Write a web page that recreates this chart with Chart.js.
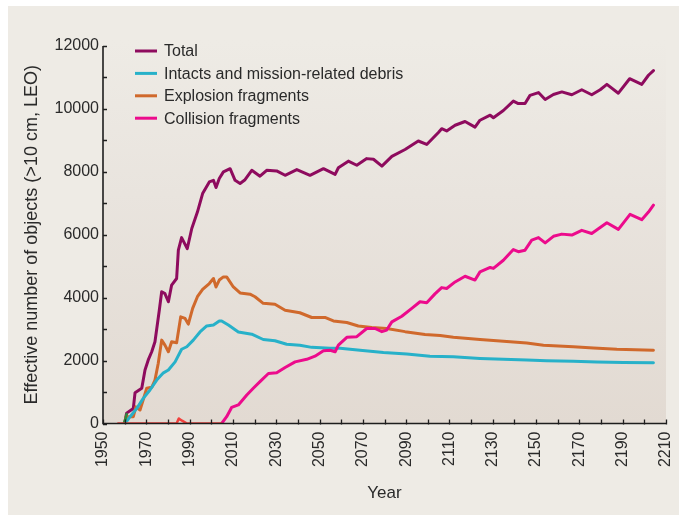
<!DOCTYPE html>
<html>
<head>
<meta charset="utf-8">
<script src="https://cdn.jsdelivr.net/npm/chart.js@4/dist/chart.umd.min.js"></script>
<style>
html,body{margin:0;padding:0;background:#ffffff;}
#wrap{position:absolute;left:0;top:0;width:679px;height:515px;}
canvas{display:block;}
</style>
</head>
<body>
<div id="wrap"><canvas id="c" width="679" height="515"></canvas></div>
<script>
// ---- Data ----
const xTickLabels = [1950,1970,1990,2010,2030,2050,2070,2090,2110,2130,2150,2170,2190,2210];
const yTickLabels = [0,2000,4000,6000,8000,10000,12000];

const seriesNames = ["Total","Intacts and mission-related debris","Explosion fragments","Collision fragments"];

const totalYears  = [1960.0,1960.9,1964.0,1964.8,1967.9,1969.4,1970.9,1972.5,1974.0,1976.0,1977.1,1978.6,1980.2,1981.7,1984.0,1984.8,1986.3,1988.9,1991.0,1993.6,1996.0,1999.1,2001.0,2002.2,2003.7,2005.6,2008.7,2011.0,2013.3,2015.6,2018.7,2022.5,2025.6,2030.2,2034.1,2039.5,2045.6,2051.8,2057.2,2058.7,2063.3,2067.2,2071.8,2074.9,2078.8,2083.4,2089.5,2095.6,2099.5,2104.9,2106.4,2108.7,2112.6,2117.2,2121.8,2124.1,2128.8,2130.3,2134.9,2139.5,2141.8,2144.9,2147.2,2151.1,2154.2,2158.0,2161.9,2166.5,2171.1,2175.7,2179.6,2182.7,2188.0,2193.2,2198.8,2201.9,2204.2];
const totalValues = [0,330,480,980,1120,1700,2020,2280,2600,3600,4190,4130,3870,4400,4610,5510,5910,5560,6200,6720,7310,7680,7730,7500,7790,8000,8100,7730,7630,7750,8050,7860,8050,8030,7890,8070,7890,8100,7920,8130,8340,8210,8420,8400,8180,8490,8710,8980,8870,9250,9370,9300,9480,9600,9420,9640,9800,9720,9950,10250,10170,10170,10430,10520,10300,10460,10540,10450,10610,10450,10610,10780,10500,10960,10780,11070,11220];

const intactYears  = [1960.2,1962.5,1965.6,1968.6,1971.7,1974.8,1977.9,1980.2,1983.3,1986.3,1988.7,1991.7,1994.8,1997.9,2001.0,2003.7,2004.8,2007.9,2012.5,2018.7,2024.0,2029.4,2034.8,2040.9,2046.4,2054.9,2059.5,2068.7,2079.5,2090.3,2101.0,2111.8,2124.1,2134.9,2145.7,2154.9,2167.2,2178.0,2190.3,2204.2];
const intactValues = [0,216,480,800,1064,1380,1610,1700,1960,2360,2440,2650,2910,3100,3130,3260,3260,3130,2910,2840,2670,2630,2520,2490,2420,2390,2390,2330,2260,2210,2140,2120,2070,2040,2016,1994,1975,1953,1943,1930];

const explosionYears  = [1960.0,1960.6,1964.0,1965.2,1967.1,1970.2,1972.5,1974.0,1975.5,1977.1,1978.6,1980.2,1981.7,1984.0,1985.9,1987.9,1989.4,1991.4,1993.6,1996.0,1999.1,2001.0,2002.2,2003.7,2005.6,2007.1,2010.2,2013.3,2017.9,2020.2,2024.0,2029.4,2034.1,2040.9,2046.4,2052.5,2056.4,2062.6,2067.9,2074.1,2081.0,2089.5,2098.7,2105.7,2111.8,2124.1,2133.4,2145.7,2153.4,2167.2,2176.5,2187.3,2204.2];
const explosionValues = [0,216,216,530,430,1120,1150,1380,1910,2650,2490,2280,2600,2570,3390,3340,3160,3660,4030,4260,4450,4610,4340,4560,4660,4660,4340,4150,4110,4030,3820,3790,3600,3520,3370,3370,3260,3210,3100,3050,3020,2920,2830,2800,2740,2670,2620,2560,2490,2440,2400,2360,2330];

const collisionYears  = [2004.8,2007.1,2009.4,2012.5,2016.4,2019.4,2022.5,2026.4,2030.2,2034.1,2038.7,2044.1,2047.9,2051.8,2054.9,2057.2,2058.7,2062.6,2067.2,2071.8,2075.6,2078.8,2081.0,2083.4,2088.0,2092.6,2096.4,2099.5,2103.3,2106.4,2108.7,2112.6,2117.2,2121.8,2124.1,2128.8,2130.3,2134.9,2139.5,2141.8,2144.9,2148.0,2151.1,2154.2,2158.0,2161.9,2166.5,2171.1,2175.7,2179.6,2182.7,2188.0,2193.4,2198.8,2201.9,2204.2];
const collisionValues = [0,216,510,590,905,1120,1330,1590,1610,1780,1960,2040,2140,2310,2330,2280,2490,2740,2760,3020,3020,2920,2970,3230,3410,3660,3870,3840,4120,4320,4290,4500,4680,4560,4820,4960,4930,5190,5530,5460,5510,5830,5910,5740,5950,6020,5990,6140,6040,6230,6380,6170,6650,6480,6720,6940];

// early collision history (not in legend)
const earlyCollisionYears  = [1957.0,1984.0,1985.0,1986.5,1988.8,2004.6];
const earlyCollisionValues = [0,0,160,90,0,0];
// small early series near 1960 (not in legend)
const earlyGreenYears  = [1959.6,1960.4,1960.9];
const earlyGreenValues = [0,150,300];

const colors = {
  total: "#8e0b5e",
  intact: "#27b1c9",
  explosion: "#d0692c",
  collision: "#ec0b8c",
  red: "#f2403c",
  green: "#2e8a3e"
};

function pts(xs, ys){ return xs.map((x,i)=>({x:x, y:ys[i]})); }

const datasets = [
  {label:"early-red", data:pts(earlyCollisionYears, earlyCollisionValues), borderColor:colors.red, borderWidth:2.5},
  {label:"early-green", data:pts(earlyGreenYears, earlyGreenValues), borderColor:colors.green, borderWidth:2.5},
  {label:seriesNames[3], data:pts(collisionYears, collisionValues), borderColor:colors.collision, borderWidth:3},
  {label:seriesNames[1], data:pts(intactYears, intactValues), borderColor:colors.intact, borderWidth:3},
  {label:seriesNames[2], data:pts(explosionYears, explosionValues), borderColor:colors.explosion, borderWidth:3},
  {label:seriesNames[0], data:pts(totalYears, totalValues), borderColor:colors.total, borderWidth:3}
];
datasets.forEach(d=>{ d.pointRadius=0; d.tension=0; d.fill=false; d.borderJoinStyle='round'; d.borderCapStyle='round'; });

const FONT = "'Liberation Sans', Arial, sans-serif";
const TXT = "#2a2a2a";

const bgPlugin = {
  id:'bg',
  beforeDraw(chart){
    const ctx = chart.ctx, a = chart.chartArea;
    ctx.save();
    ctx.fillStyle = "#ffffff";
    ctx.fillRect(0,0,chart.width,chart.height);
    ctx.fillStyle = "#eeebe5";
    ctx.fillRect(8,6,chart.width-8,chart.height-6);
    const g = ctx.createLinearGradient(0, a.top-6, 0, a.bottom);
    g.addColorStop(0, "#eeebe5");
    g.addColorStop(0.4, "#e9e4de");
    g.addColorStop(1, "#e2dad2");
    ctx.fillStyle = g;
    ctx.fillRect(a.left, a.top-6, a.right-a.left, a.bottom-a.top+6);
    ctx.restore();
  }
};

const axisPlugin = {
  id:'axisDeco',
  afterDatasetsDraw(chart){
    const ctx = chart.ctx, x = chart.scales.x, y = chart.scales.y, a = chart.chartArea;
    ctx.save();
    ctx.strokeStyle = "#1e1e1e";
    ctx.lineWidth = 1.6;
    ctx.beginPath();
    ctx.moveTo(a.left, y.getPixelForValue(12000));
    ctx.lineTo(a.left, a.bottom);
    ctx.lineTo(a.right, a.bottom);
    ctx.stroke();
    ctx.lineWidth = 1.3;
    ctx.beginPath();
    for(let v=0; v<=12000; v+=1000){
      const py = Math.round(y.getPixelForValue(v))+0.5;
      ctx.moveTo(a.left, py); ctx.lineTo(a.left+4, py);
    }
    for(let yr=1950; yr<=2210; yr+=10){
      const px = Math.round(x.getPixelForValue(yr))+0.5;
      ctx.moveTo(px, a.bottom+1); ctx.lineTo(px, a.bottom-4);
    }
    ctx.stroke();
    // legend
    ctx.font = "16px " + FONT;
    ctx.textBaseline = "middle";
    ctx.textAlign = "left";
    const order = [5,3,4,2];
    order.forEach((di,i)=>{
      const ds = chart.data.datasets[di];
      const cy = 51 + i*22.4;
      ctx.strokeStyle = ds.borderColor;
      ctx.lineWidth = 3;
      ctx.beginPath(); ctx.moveTo(135, cy); ctx.lineTo(157, cy); ctx.stroke();
      ctx.fillStyle = TXT;
      ctx.fillText(ds.label, 164, cy+1);
    });
    ctx.restore();
  }
};

new Chart(document.getElementById('c'), {
  type:'line',
  data:{datasets:datasets},
  options:{
    responsive:false,
    animation:false,
    layout:{padding:{left:0, top:46, right:13, bottom:0}},
    plugins:{legend:{display:false}, tooltip:{enabled:false}},
    scales:{
      x:{
        type:'linear', min:1950, max:2210,
        afterBuildTicks(s){ s.ticks = xTickLabels.map(v=>({value:v})); },
        afterFit(s){ s.height = 91.5; s.paddingLeft = 0; s.paddingRight = 0; },
        grid:{display:false, drawTicks:false},
        border:{display:false},
        ticks:{color:TXT, font:{family:FONT, size:16}, padding:8, maxRotation:90, minRotation:90, autoSkip:false,
               callback:(v)=>String(v)},
        title:{display:true, text:"Year", color:TXT, font:{family:FONT, size:17}, padding:{top:4,bottom:11}}
      },
      y:{
        type:'linear', min:0, max:12000,
        afterBuildTicks(s){ s.ticks = yTickLabels.map(v=>({value:v})); },
        afterFit(s){ s.width = 103; s.paddingTop = 0; s.paddingBottom = 0; },
        grid:{display:false, drawTicks:false},
        border:{display:false},
        ticks:{color:TXT, font:{family:FONT, size:16}, padding:4, callback:(v)=>String(v)},
        title:{display:true, text:"Effective number of objects (>10 cm, LEO)", color:TXT, font:{family:FONT, size:18}, padding:{top:21,bottom:0}}
      }
    }
  },
  plugins:[bgPlugin, axisPlugin]
});
</script>
</body>
</html>
